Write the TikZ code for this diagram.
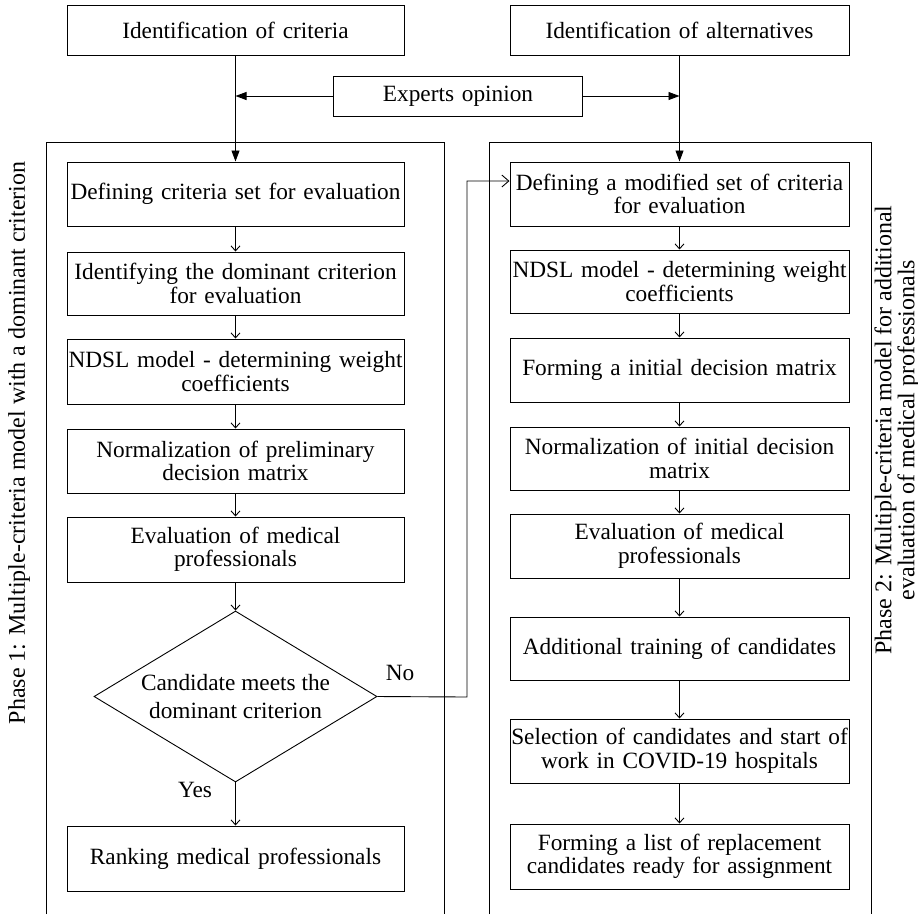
\documentclass[tikz,border=0pt]{standalone}
\usepackage{fontspec}
\setmainfont{Liberation Serif}
\usetikzlibrary{arrows.meta,shapes.geometric}
\begin{document}
\begin{tikzpicture}[x=1pt,y=-1pt,
  txt/.style={font=\fontsize{23.3}{23.5}\selectfont},
  box/.style={draw, line width=1pt, rectangle, inner ysep=0pt, inner xsep=-8pt, txt,
    text width=#1+16pt, minimum width=#1, align=center, minimum height=64pt},
  box/.default=337pt,
  fillarrow/.style={line width=0.9pt, -{Triangle[length=11pt,width=8pt]}},
  openarrow/.style={line width=0.9pt, -{Straight Barb[length=5pt,width=9pt]}},
  bigopen/.style={line width=0.9pt, -{Straight Barb[length=7pt,width=12pt]}},
  frame/.style={line width=1pt},
  phase/.style={font=\fontsize{24}{21}\selectfont, rotate=90, align=center, inner sep=0pt}
]
\useasboundingbox (0,0) rectangle (918,914);
\fill[white] (0,0) rectangle (918,914);

% top boxes
\node[box, minimum height=50pt] (tl) at (235.5,30) {Identification of criteria};
\node[box=339pt, minimum height=50pt] (tr) at (679.5,30) {Identification of alternatives};
\node[box=249pt, minimum height=40pt] (ex) at (458,96) {Experts opinion};
\coordinate (jl) at (235.5,96);
\coordinate (jr) at (679.5,96);

% frames (open at the bottom)
\draw[frame] (46,914) -- (46,142) -- (444,142) -- (444,914);
\draw[frame] (489,914) -- (489,142) -- (871,142) -- (871,914);

% left column
\node[box] (l1) at (235.5,194) {Defining criteria set for evaluation};
\node[box, minimum height=63pt] (l2) at (235.5,283.5) {Identifying the dominant criterion\\for evaluation};
\node[box, minimum height=65pt] (l3) at (235.5,371.5) {NDSL model - determining weight\\coefficients};
\node[box] (l4) at (235.5,461) {Normalization of preliminary\\decision matrix};
\node[box, minimum height=65pt] (l5) at (235.5,549.5) {Evaluation of medical\\professionals};
\node[draw, line width=0.9pt, diamond, inner sep=0pt, aspect=1.655,
  minimum width=283pt, minimum height=171pt, align=center,
  font=\fontsize{23.3}{28.5}\selectfont] (d) at (235.5,696.5) {Candidate meets the\\dominant criterion};
\node[box, minimum height=65pt] (l7) at (235.5,858.5) {Ranking medical professionals};

% right column
\node[box=339pt] (r1) at (679.5,194) {Defining a modified set of criteria\\for evaluation};
\node[box=339pt, minimum height=63pt] (r2) at (679.5,281.5) {NDSL model - determining weight\\coefficients};
\node[box=339pt] (r3) at (679.5,370) {Forming a initial decision matrix};
\node[box=339pt, minimum height=63pt] (r4) at (679.5,458.5) {Normalization of initial decision\\matrix};
\node[box=339pt] (r5) at (679.5,546) {Evaluation of medical\\professionals};
\node[box=339pt, minimum height=63pt] (r6) at (679.5,648.5) {Additional training of candidates};
\node[box=339pt] (r7) at (679.5,751) {Selection of candidates and start of\\work in COVID-19 hospitals};
\node[box=339pt, minimum height=65pt] (r8) at (679.5,856.5) {Forming a list of replacement\\candidates ready for assignment};

% phase labels
\node[phase] (p1) at (19,443) {Phase 1: Multiple-criteria model with a dominant criterion};
\node[phase] (p2) at (897,430) {Phase 2: Multiple-criteria model for additional\\evaluation of medical professionals};

% top connectors
\draw[fillarrow] (tl) -- (l1);
\draw[fillarrow] (tr) -- (r1);
\draw[fillarrow] (ex.west) -- (jl);
\draw[fillarrow] (ex.east) -- (jr);

% left flow
\draw[openarrow] (l1) -- (l2);
\draw[openarrow] (l2) -- (l3);
\draw[openarrow] (l3) -- (l4);
\draw[openarrow] (l4) -- (l5);
\draw[openarrow] (l5) -- (d);
\draw[openarrow] (d) -- (l7);
\node[txt] (yes) at (195,790) {Yes};

% right flow
\draw[openarrow] (r1) -- (r2);
\draw[openarrow] (r2) -- (r3);
\draw[openarrow] (r3) -- (r4);
\draw[openarrow] (r4) -- (r5);
\draw[openarrow] (r5) -- (r6);
\draw[openarrow] (r6) -- (r7);
\draw[openarrow] (r7) -- (r8);

% No branch
\coordinate (nb) at (467,697);
\coordinate (nc) at (467,181);
\draw[bigopen] (d.east) -- (nb) -- (nc) -- (nc -| r1.west);
\node[txt] (no) at (400,673) {No};
\end{tikzpicture}
\end{document}
